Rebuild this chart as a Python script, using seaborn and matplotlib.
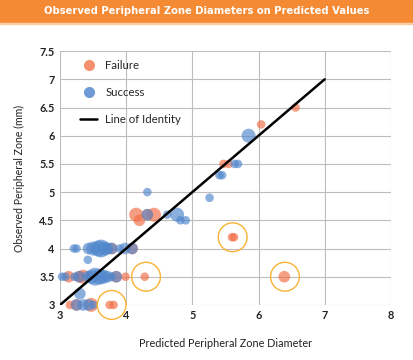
import matplotlib
matplotlib.use("Agg")
import matplotlib.pyplot as plt
import seaborn as sns
import pandas as pd
from matplotlib.patches import Rectangle
from matplotlib.lines import Line2D

# ---- data ----
fail_x = [6.56, 6.04, 5.47, 5.55, 5.60, 5.63, 6.39, 4.15, 4.20, 4.42, 4.32, 4.28, 3.99, 3.85,
          3.35, 3.13, 3.29, 3.15, 3.47, 3.75, 3.81, 3.25, 4.09, 3.78]
fail_y = [6.5, 6.2, 5.5, 5.5, 4.2, 4.2, 3.5, 4.6, 4.5, 4.6, 4.6, 3.5, 3.5, 3.5,
          3.5, 3.5, 3.5, 3.0, 3.0, 3.0, 3.0, 3.0, 4.0, 4.0]
fail_n = [1, 1, 1, 1, 1, 1, 2, 3, 2, 3, 2, 1, 1, 2,
          3, 2, 2, 1, 3, 1, 1, 2, 2, 2]

succ_x = [5.85, 5.64, 5.69, 5.41, 5.45, 5.26, 4.32, 4.32, 4.62, 4.77, 4.82, 4.90,
          3.21, 3.25, 3.43, 3.50, 3.58, 3.62, 3.68, 3.72, 3.78, 3.90, 3.98, 4.09,
          3.42,
          3.03, 3.08, 3.22, 3.29, 3.42, 3.48, 3.53, 3.60, 3.66, 3.72, 3.78, 3.85,
          3.30,
          3.25, 3.35, 3.43, 3.50]
succ_y = [6.0, 5.5, 5.5, 5.3, 5.3, 4.9, 5.0, 4.6, 4.6, 4.6, 4.5, 4.5,
          4.0, 4.0, 4.0, 4.0, 4.0, 4.0, 4.0, 4.0, 4.0, 4.0, 4.0, 4.0,
          3.8,
          3.5, 3.5, 3.5, 3.5, 3.5, 3.5, 3.5, 3.5, 3.5, 3.5, 3.5, 3.5,
          3.2,
          3.0, 3.0, 3.0, 3.0]
succ_n = [3, 1, 1, 1, 1, 1, 1, 2, 1, 3, 1, 1,
          1, 1, 2, 3, 4, 5, 3, 2, 2, 1, 2, 2,
          1,
          1, 1, 1, 2, 2, 3, 5, 4, 3, 2, 1, 2,
          2,
          2, 2, 2, 1]

outlier_x = [3.78, 4.30, 5.61, 6.40]
outlier_y = [3.0, 3.5, 4.2, 3.5]

identity = [3, 7]

df = pd.DataFrame({
    "pred": fail_x + succ_x,
    "obs": fail_y + succ_y,
    "n": fail_n + succ_n,
    "outcome": ["Failure"] * len(fail_x) + ["Success"] * len(succ_x),
})

# ---- style ----
sns.set_style("whitegrid")
plt.rcParams["font.family"] = ["Lato", "DejaVu Sans"]

fig = plt.figure(figsize=(4.14, 3.6), dpi=100)
ax = fig.add_axes([0.145, 0.153, 0.799, 0.705])

pal = {"Failure": "#F26B43", "Success": "#4F86CC"}
sns.scatterplot(data=df, x="pred", y="obs", hue="outcome", size="n",
                sizes=(38, 165), palette=pal, alpha=0.65, edgecolor="none",
                legend=False, ax=ax, clip_on=False, zorder=3)

ax.scatter(outlier_x, outlier_y, s=430, facecolors="none", edgecolors="#F9B233",
           linewidths=1.0, clip_on=False, zorder=4)

ax.plot(identity, identity, color="black", lw=1.8, zorder=5)

ax.set_xlim(3, 8)
ax.set_ylim(3, 7.5)
ax.set_xticks([3, 4, 5, 6, 7, 8])
ax.set_yticks([3, 3.5, 4, 4.5, 5, 5.5, 6, 6.5, 7, 7.5])
ax.set_yticklabels(["3", "3.5", "4", "4.5", "5", "5.5", "6", "6.5", "7", "7.5"])
ax.grid(True, color="#BDBDBD", lw=0.8)
for s in ax.spines.values():
    s.set_visible(False)
ax.tick_params(axis="both", labelsize=7.8, pad=4, length=0, colors="#222222")
for lbl in ax.get_xticklabels() + ax.get_yticklabels():
    lbl.set_fontweight("bold")

ax.set_xlabel("Predicted Peripheral Zone Diameter", fontsize=7.8, labelpad=12, color="#222222")
ax.set_ylabel("Observed Peripheral Zone (mm)", fontsize=7.6, labelpad=10, color="#222222")

handles = [
    Line2D([], [], marker="o", ls="none", color="#F5916E", markersize=8, markeredgewidth=0),
    Line2D([], [], marker="o", ls="none", color="#6F9AD5", markersize=8, markeredgewidth=0),
    Line2D([], [], color="black", lw=1.8),
]
ax.legend(handles, ["Failure", "Success", "Line of Identity"], loc="upper left",
          bbox_to_anchor=(0.03, 1.005), frameon=False, fontsize=8.2, labelspacing=1.4,
          handlelength=1.5, handletextpad=0.7)

# title banner
fig.patches.append(Rectangle((0, 1 - 22.5 / 360), 1, 22.5 / 360, transform=fig.transFigure,
                             color="#F58A34", zorder=0))
fig.patches.append(Rectangle((0, 1 - 24 / 360), 1, 1.5 / 360, transform=fig.transFigure,
                             color="#FBCDA4", zorder=0))
fig.text(0.5, 1 - 11.5 / 360, "Observed Peripheral Zone Diameters on Predicted Values",
         ha="center", va="center", color="white", fontsize=7.2, fontweight="bold",
         family=["DejaVu Sans"])

fig.savefig("out.png", dpi=100)
